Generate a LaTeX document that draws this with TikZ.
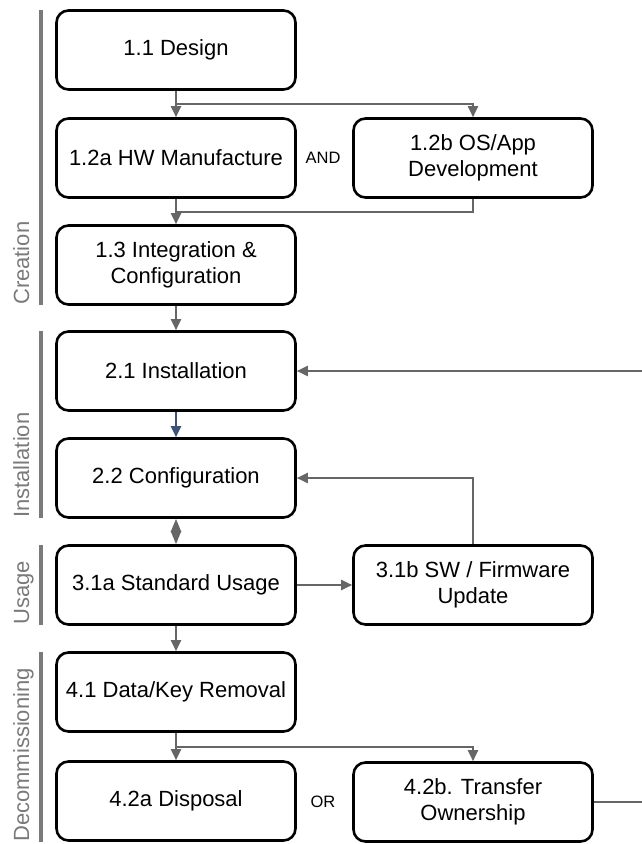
\documentclass[tikz,border=0pt]{standalone}
\usepackage{fontspec}
\setmainfont{Liberation Sans}
\usepackage{xcolor}
\usepackage{tikz}
\usetikzlibrary{shapes,arrows,positioning,calc,arrows.meta}

\definecolor{linegray}{HTML}{666666}
\definecolor{labelgray}{HTML}{7A7A7A}
\definecolor{slateblue}{HTML}{3D5475}

\tikzset{
    stage/.style={draw, rounded corners=12pt, line width=2.6pt, minimum width=239pt,
        minimum height=79pt, align=center, font=\fontsize{22}{26}\selectfont},
    link/.style={draw=linegray, line width=2pt},
    flow/.style={link, -{Triangle[length=11pt, width=10pt]}},
    joint/.style={font=\fontsize{16.5}{19}\selectfont}
}

\begin{document}
\begin{tikzpicture}[x=1pt, y=-1pt]
    \useasboundingbox (0,0) rectangle (641,844);

    % phase bars and labels
    \foreach \top/\bottom/\phase in {10/305/Creation, 331/518/Installation, 545/625/Usage, 652/842/Decommissioning} {
        \draw[labelgray, line width=3.5pt] (41,\top) -- (41,\bottom);
        \node[rotate=90, anchor=base west, inner sep=0pt, text=labelgray,
            font=\fontsize{22}{26}\selectfont] at (29,\bottom) {\phase};
    }

    % stages
    \node[stage] (design) at (176,50) {1.1 Design};
    \node[stage] (hw) at (176,158) {1.2a HW Manufacture};
    \node[stage] (osapp) at (473,158) {1.2b OS/App\\Development};
    \node[stage] (integ) at (176,265) {1.3 Integration \&\\Configuration};
    \node[stage] (install) at (176,371) {2.1 Installation};
    \node[stage] (config) at (176,478) {2.2 Configuration};
    \node[stage] (usage) at (176,585) {3.1a Standard Usage};
    \node[stage] (update) at (473,585) {3.1b SW / Firmware\\Update};
    \node[stage] (removal) at (176,692) {4.1 Data/Key Removal};
    \node[stage] (disposal) at (176,801) {4.2a Disposal};
    \node[stage] (transfer) at (473,802) {4.2b. Transfer\\Ownership};

    \node[joint] (and) at (323,158) {AND};
    \node[joint] (or) at (323,802) {OR};

    % connectors
    \coordinate (split1) at ($(design.south)!0.5!(hw.north)$);
    \coordinate (merge1) at ($(hw.south)!0.5!(integ.north)$);
    \coordinate (split4) at ($(removal.south)!0.5!(disposal.north)$);
    \coordinate (back1) at (642,371);
    \coordinate (back2) at (642,802);

    \draw[flow] (design) -- (hw);
    \draw[flow] (split1) -| (osapp.north);
    \draw[flow] (hw) -- (integ);
    \draw[link] (osapp.south) |- (merge1);
    \draw[flow] (integ) -- (install);
    \draw[flow, draw=slateblue] (install) -- (config);
    \draw[link, {Triangle[length=13pt, width=10pt]}-{Triangle[length=13pt, width=10pt]}] (config) -- (usage);
    \draw[flow] (usage) -- (update);
    \draw[flow] (update.north) |- (config.east);
    \draw[flow] (back1) -- (install.east);
    \draw[flow] (usage) -- (removal);
    \draw[flow] (removal) -- (disposal);
    \draw[flow] (split4) -| (transfer.north);
    \draw[link] (transfer.east) -- (back2);
\end{tikzpicture}
\end{document}
